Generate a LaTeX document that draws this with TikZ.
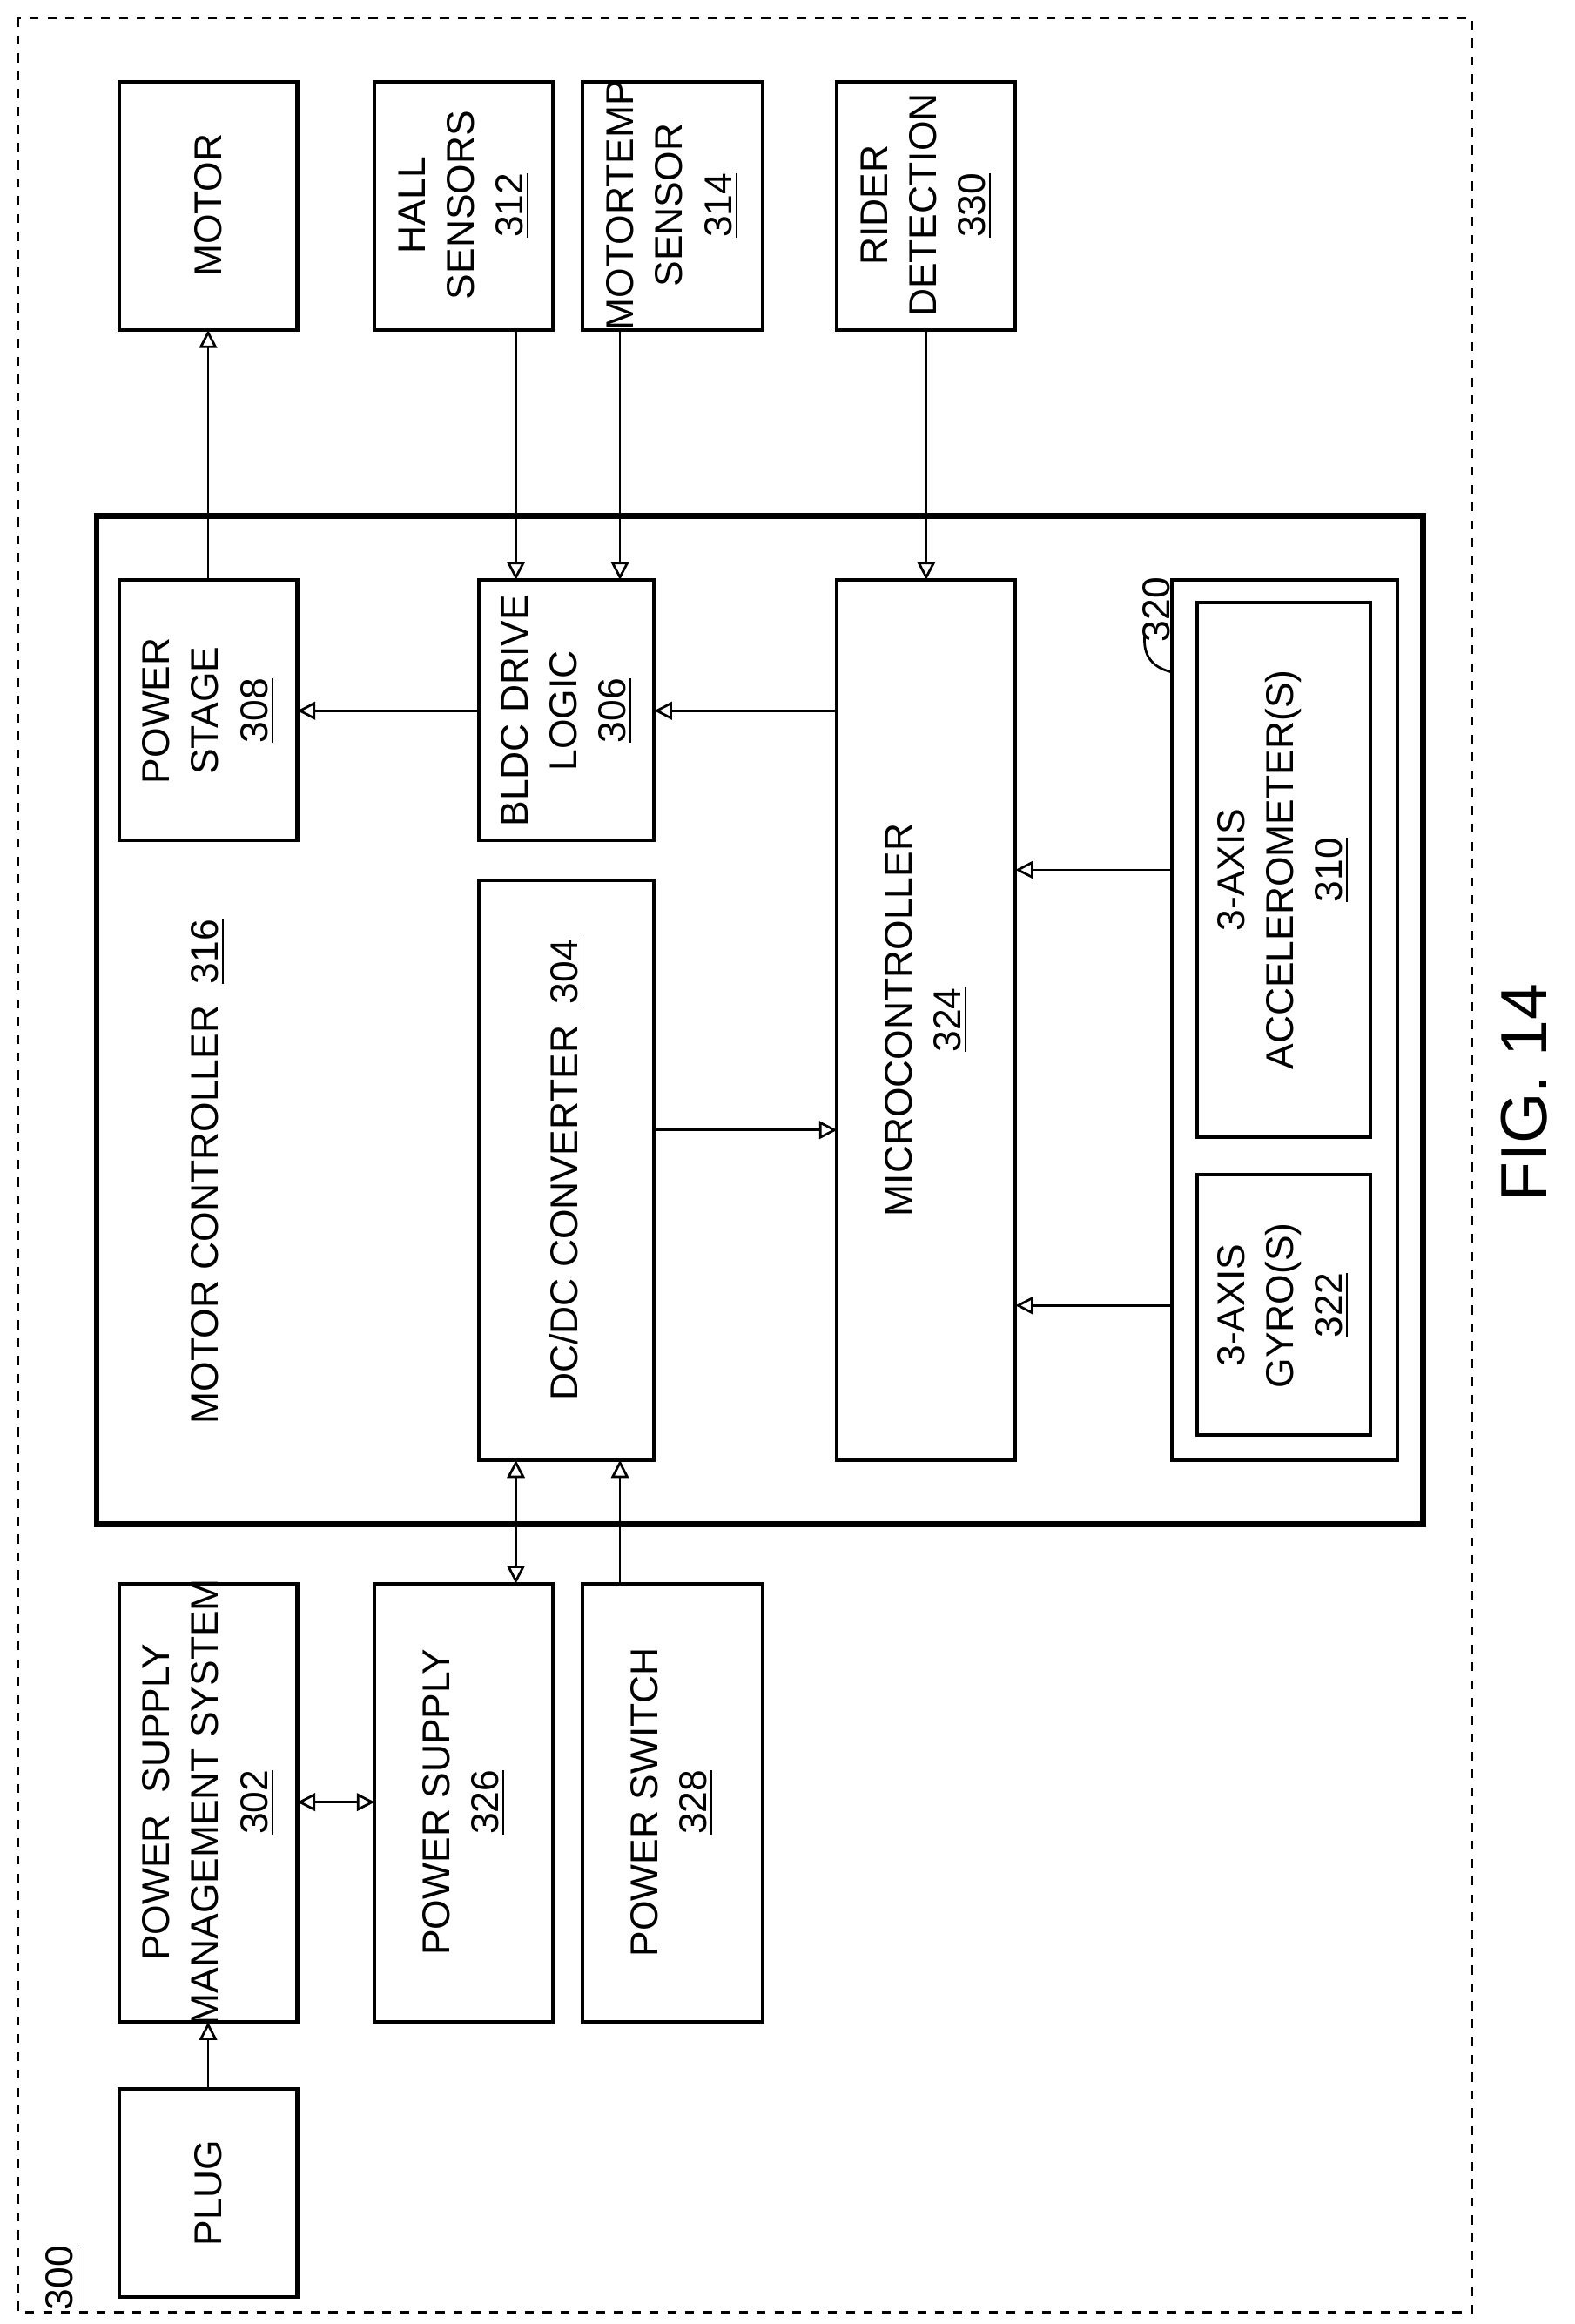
\documentclass[tikz,border=0pt]{standalone}
\usepackage{fontspec}
\setmainfont{Liberation Sans}
\usetikzlibrary{arrows.meta}
\begin{document}
\begin{tikzpicture}[x=0.5pt,y=-0.5pt,
 box/.style={draw,line width=1.2pt},
 lbl/.style={rotate=90,align=center,font=\fontsize{13}{16.5}\selectfont,inner sep=0pt},
 arr/.style={line width=0.8pt,-{Triangle[open,length=6pt,width=6pt]}},
 darr/.style={line width=0.8pt,{Triangle[open,length=6pt,width=6pt]}-{Triangle[open,length=6pt,width=6pt]}}]
\useasboundingbox (0,0) rectangle (1059,1563);
\draw[dashed,line width=0.8pt] (12,12) rectangle (990,1555);
\node[lbl] (n300) at (42,1532) {\underline{300}};
\draw[line width=2pt] (65,347) rectangle (957,1025);
\node[lbl] (mc) at (140,788) {MOTOR CONTROLLER\ \ \underline{316}};
% top row
\draw[box] (80,55) rectangle (200,222); \node[lbl] (motor) at (140,138) {MOTOR};
\draw[box] (252,55) rectangle (372,222); \node[lbl] (hall) at (312,138) {HALL\\SENSORS\\\underline{312}};
\draw[box] (392,55) rectangle (513,222); \node[lbl] (temp) at (452,138) {MOTORTEMP\\SENSOR\\\underline{314}};
\draw[box] (563,55) rectangle (683,222); \node[lbl] (rider) at (623,138) {RIDER\\DETECTION\\\underline{330}};
% inside
\draw[box] (80,390) rectangle (200,565); \node[lbl] (ps) at (140,478) {POWER\\STAGE\\\underline{308}};
\draw[box] (322,390) rectangle (440,565); \node[lbl] (bldc) at (381,478) {BLDC DRIVE\\LOGIC\\\underline{306}};
\draw[box] (322,592) rectangle (440,982); \node[lbl] (dc) at (381,787) {DC/DC CONVERTER\ \ \underline{304}};
\draw[box] (563,390) rectangle (683,982); \node[lbl] (micro) at (623,686) {MICROCONTROLLER\\\underline{324}};
\draw[box] (788,390) rectangle (940,982);
\draw[box] (805,405) rectangle (922,765); \node[lbl] (acc) at (863,585) {3-AXIS\\ACCELEROMETER(S)\\\underline{310}};
\draw[box] (805,790) rectangle (922,965); \node[lbl] (gyro) at (863,878) {3-AXIS\\GYRO(S)\\\underline{322}};
\node[lbl] (n320) at (778,410) {320};
\draw[line width=0.8pt] (770,427) .. controls (768,445) and (780,450) .. (788,452);
% bottom row
\draw[box] (80,1405) rectangle (200,1545); \node[lbl] (plug) at (140,1475) {PLUG};
\draw[box] (80,1065) rectangle (200,1360); \node[lbl] (psms) at (140,1212) {POWER\ \ SUPPLY\\MANAGEMENT SYSTEM\\\underline{302}};
\draw[box] (252,1065) rectangle (372,1360); \node[lbl] (psu) at (312,1212) {POWER SUPPLY\\\underline{326}};
\draw[box] (392,1065) rectangle (513,1360); \node[lbl] (sw) at (452,1212) {POWER SWITCH\\\underline{328}};
\node[rotate=90,font=\fontsize{22}{26}\selectfont] (fig) at (1025,735) {FIG. 14};
% connectors
\coordinate (a1) at (140,390); \coordinate (a2) at (140,222); \draw[arr] (a1)--(a2);
\coordinate (b1) at (347,222); \coordinate (b2) at (347,390); \draw[arr] (b1)--(b2);
\coordinate (c1) at (417,222); \coordinate (c2) at (417,390); \draw[arr] (c1)--(c2);
\coordinate (d1) at (623,222); \coordinate (d2) at (623,390); \draw[arr] (d1)--(d2);
\coordinate (e1) at (322,478); \coordinate (e2) at (200,478); \draw[arr] (e1)--(e2);
\coordinate (f1) at (563,478); \coordinate (f2) at (440,478); \draw[arr] (f1)--(f2);
\coordinate (g1) at (788,585); \coordinate (g2) at (683,585); \draw[arr] (g1)--(g2);
\coordinate (h1) at (788,878); \coordinate (h2) at (683,878); \draw[arr] (h1)--(h2);
\coordinate (i1) at (440,760); \coordinate (i2) at (563,760); \draw[arr] (i1)--(i2);
\coordinate (j1) at (347,1065); \coordinate (j2) at (347,982); \draw[darr] (j1)--(j2);
\coordinate (k1) at (417,1065); \coordinate (k2) at (417,982); \draw[arr] (k1)--(k2);
\coordinate (l1) at (200,1212); \coordinate (l2) at (252,1212); \draw[darr] (l1)--(l2);
\coordinate (m1) at (140,1405); \coordinate (m2) at (140,1360); \draw[arr] (m1)--(m2);
\end{tikzpicture}
\end{document}
